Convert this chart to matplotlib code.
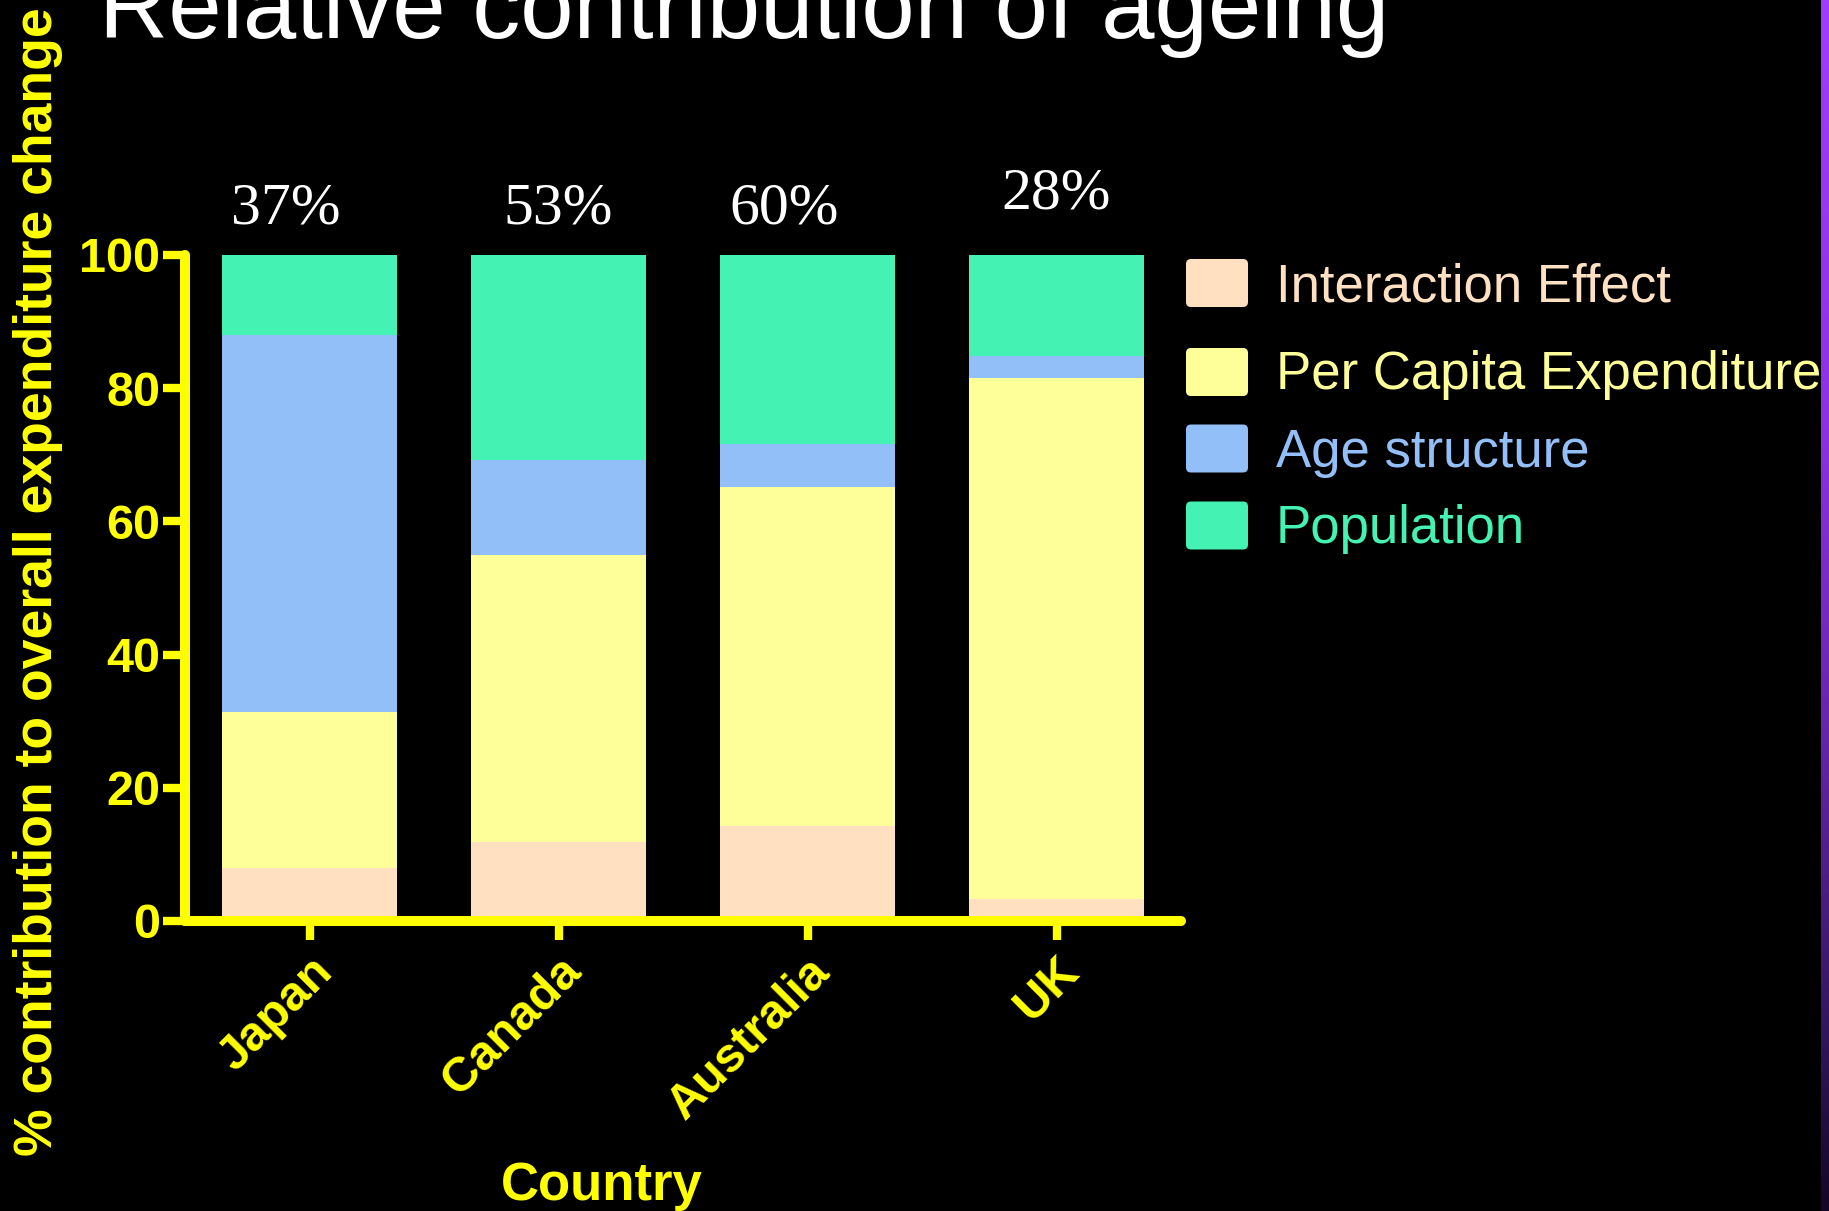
import numpy as np
import matplotlib
matplotlib.use("Agg")
import matplotlib.pyplot as plt
from matplotlib.patches import FancyBboxPatch
from matplotlib.colors import LinearSegmentedColormap

plt.rcParams['font.family'] = ['Liberation Sans', 'DejaVu Sans']

countries = ["Japan", "Canada", "Australia", "UK"]
series = ["Interaction Effect", "Per Capita Expenditure", "Age structure", "Population"]

# % contribution of each component, stacked bottom to top
interaction = [8.0, 11.9, 14.3, 3.3]
per_capita = [23.4, 43.1, 50.9, 78.3]
age_structure = [56.6, 14.2, 6.4, 3.2]
population = [12.0, 30.8, 28.4, 15.2]

# share of the change due to ageing, written above each bar
ageing_share = ["37%", "53%", "60%", "28%"]

colors = ["#FFE0C1", "#FFFF99", "#93BFF9", "#44F2B4"]
yellow = "#FFFF00"

W, H = 1829, 1211
fig = plt.figure(figsize=(W / 100, H / 100), dpi=100, facecolor="black")

# full-figure layer in pixel units for title, legend and the side strip
fa = fig.add_axes([0, 0, 1, 1])
fa.set_xlim(0, W)
fa.set_ylim(H, 0)
fa.axis("off")

ax = fig.add_axes([185 / W, 1 - 921 / H, (1181 - 185) / W, (921 - 255) / H])
ax.set_facecolor("black")

x = np.arange(len(countries))
bottom = np.zeros(len(countries))
for vals, col, name in zip([interaction, per_capita, age_structure, population], colors, series):
    ax.bar(x, vals, 0.7, bottom=bottom, color=col, label=name, zorder=2)
    bottom += np.array(vals)

# labels above bars
label_dx = [-0.094, 0.0, -0.094, 0.0]
label_y = [104.7, 104.7, 104.7, 107.0]
for i, txt in enumerate(ageing_share):
    ax.text(x[i] + label_dx[i], label_y[i], txt, ha="center", va="baseline",
            color="white", fontsize=43, family=["Liberation Serif", "DejaVu Serif"],
            clip_on=False)

ax.set_xlim(-0.5, 3.5)
ax.set_ylim(0, 100)

for s in ["top", "right"]:
    ax.spines[s].set_visible(False)
for s in ["left", "bottom"]:
    ax.spines[s].set_color(yellow)
    ax.spines[s].set_linewidth(7.2)
    ax.spines[s].set_capstyle("round")
    ax.spines[s].set_zorder(3)

ax.set_yticks([0, 20, 40, 60, 80, 100])
ax.set_yticklabels(["0", "20", "40", "60", "80", "100"], fontsize=35, fontweight="bold")
ax.set_xticks(x)
ax.set_xticklabels(countries, rotation=45, ha="right", rotation_mode="anchor",
                   fontsize=35, fontweight="bold")
ax.tick_params(axis="y", length=16, width=6, color=yellow, labelcolor=yellow, pad=2)
ax.tick_params(axis="x", length=14, width=6, color=yellow, labelcolor=yellow, pad=6)

fig.text(602 / W, 1 - 1200 / H, "Country", ha="center", va="baseline",
         color=yellow, fontsize=38, fontweight="bold")
fig.text(38 / W, 1 - 582 / H, "% contribution to overall expenditure change",
         rotation=90, ha="center", va="center", color=yellow, fontsize=38.5,
         fontweight="bold")

# title, partly running off the top edge
fa.text(99, 38, "Relative contribution of ageing", ha="left", va="baseline",
        color="white", fontsize=69)

# legend
leg_centers = [283, 372, 448.5, 525.5]
leg_baselines = [302, 389, 467, 543]
for name, col, yc, yb in zip(series, colors, leg_centers, leg_baselines):
    fa.add_patch(FancyBboxPatch((1186, yc - 24), 62, 48,
                                boxstyle="round,pad=0,rounding_size=5",
                                facecolor=col, edgecolor="none"))
    fa.text(1276, yb, name, ha="left", va="baseline", color=col, fontsize=38)

# purple strip on the right edge
strip = LinearSegmentedColormap.from_list(
    "strip", [(0.0, "#A03CFF"), (0.35, "#8C32E4"), (0.6, "#6626AC"),
              (0.85, "#32165E"), (1.0, "#140626")])
fa.imshow(np.linspace(0, 1, 256).reshape(-1, 1), cmap=strip, aspect="auto",
          extent=[1821, W, H, 0], zorder=3)
fa.set_xlim(0, W)
fa.set_ylim(H, 0)

fig.savefig("out.png", dpi=100, facecolor="black")
